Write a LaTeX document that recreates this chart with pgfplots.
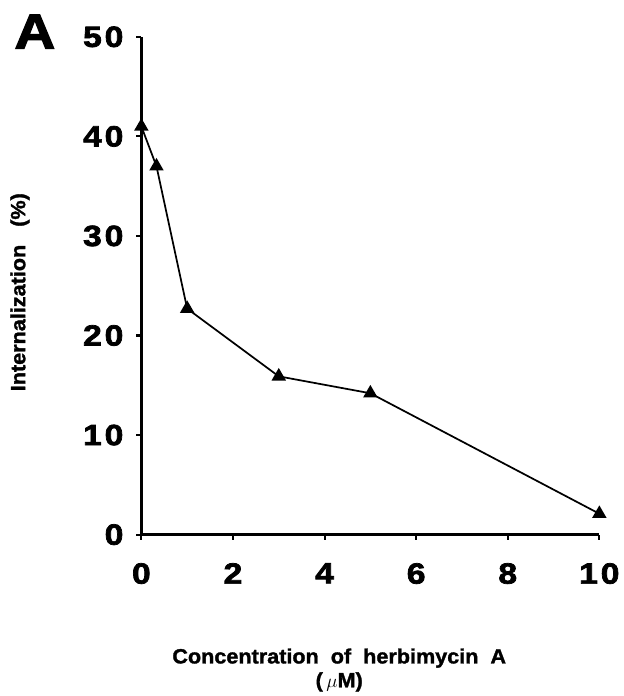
\documentclass[border=0pt]{standalone}
\usepackage{fontspec}
\setmainfont{Liberation Sans}[FakeBold=1.5]
\newfontfamily\tickfont{Liberation Sans}[LetterSpace=10, FakeStretch=1.15, FakeBold=2.5]
\newfontfamily\labfont{Liberation Sans}[FakeStretch=1.05, FakeBold=1.5]
\usepackage{pgfplots}
\pgfplotsset{compat=1.18}

\begin{document}
\begin{tikzpicture}
\begin{axis}[
  name=ax,
  scale only axis,
  width=345pt, height=375pt,
  xmin=0, xmax=10, ymin=0, ymax=50,
  axis x line=bottom, axis y line=left,
  axis line style={-, line width=2.4pt},
  xtick={0,2,4,6,8,10}, ytick={0,10,20,30,40,50},
  tick align=outside, major tick length=4pt,
  tick style={line width=1.6pt, black},
  /pgf/number format/assume math mode=true,
  ticklabel style={font=\tickfont\bfseries\fontsize{22}{24}\selectfont},
  xticklabel style={yshift=-14pt},
  yticklabel style={xshift=-6pt},
  xlabel={Concentration\ \ of\ \ herbimycin\ \ A\\(\,$\mu$M)},
  xlabel style={font=\labfont\bfseries\fontsize{15.5}{18}\selectfont, align=center,
    at={([yshift=-102pt]axis description cs:0.432,0)}, anchor=center},
  ylabel={Internalization\ \ \ (\%)},
  ylabel style={font=\labfont\bfseries\fontsize{15.5}{18}\selectfont,
    at={([xshift=-91.5pt]axis description cs:0,0.487)}, anchor=center},
  clip=false,
]
\addplot[black, line width=1.3pt, mark=triangle*, mark size=5pt,
  mark options={solid}] coordinates {
  (0,41) (0.33,37) (1,22.7) (3,15.9) (5,14.2) (10,2.1)};
\end{axis}
\node[font=\tickfont\bfseries\fontsize{37}{40}\selectfont] at ([shift={(-80.25pt,379pt)}]ax.south west) {A};
\path (ax.south west) ++(-106.5pt,-119.25pt) rectangle ++(469.5pt,522pt);
\end{tikzpicture}
\end{document}
